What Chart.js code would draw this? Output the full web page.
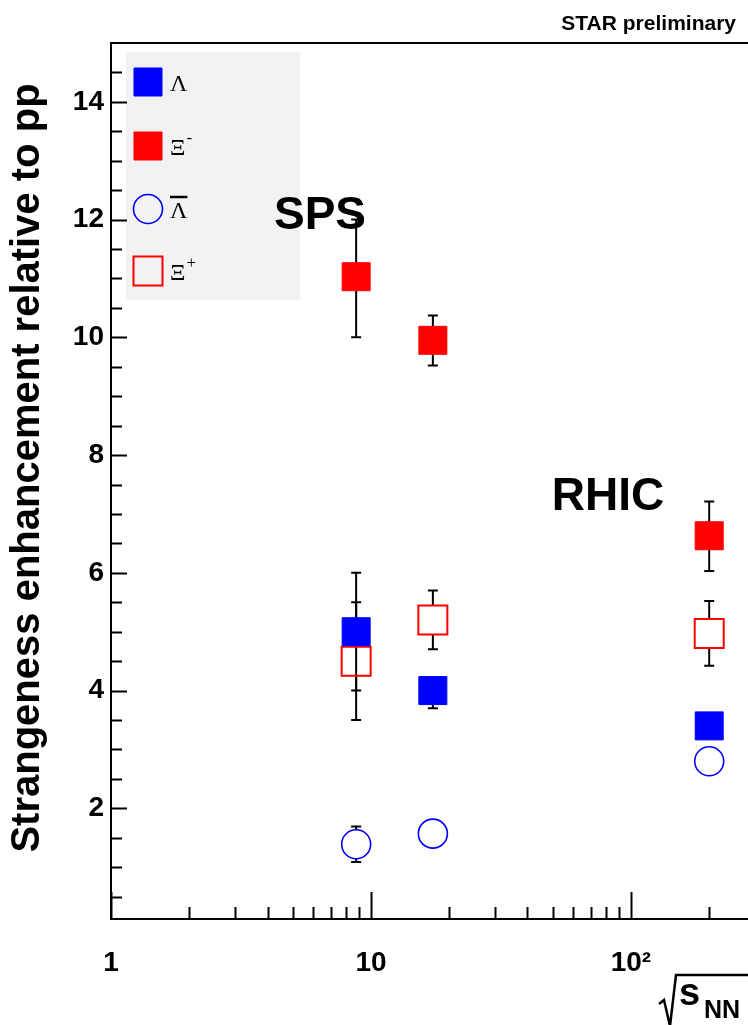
<!DOCTYPE html>
<html lang="en">
  <head>
    <meta charset="UTF-8" />
    <title>Strangeness enhancement</title>
    <script src="https://cdn.jsdelivr.net/npm/chart.js"></script>
    <style>
      body { margin: 0; background: #fff; }
      canvas { display: block; }
    </style>
  </head>
  <body>
    <canvas id="chart" width="748" height="1025"></canvas>

    <script>
      /* data */
      const energies = [8.77, 17.3, 200];

      const lambda = [5.0, 4.0, 3.4];
      const lambdaErrLo = [1.0, 0.3, 0];
      const lambdaErrHi = [1.0, 0.2, 0];

      const xiMinus = [11.03, 9.95, 6.63];
      const xiMinusErrLo = [1.03, 0.43, 0.6];
      const xiMinusErrHi = [0.97, 0.42, 0.58];

      const antiLambda = [1.39, 1.57, 2.8];
      const antiLambdaErrLo = [0.3, 0, 0];
      const antiLambdaErrHi = [0.3, 0, 0];

      const xiPlus = [4.5, 5.2, 4.97];
      const xiPlusErrLo = [1.0, 0.5, 0.55];
      const xiPlusErrHi = [1.0, 0.5, 0.55];

      const xTicks = [1, 10, 100];
      const xTickLabels = ["1", "10", "10²"];
      const xMinor = [2, 3, 4, 5, 6, 7, 8, 9, 20, 30, 40, 50, 60, 70, 80, 90, 200];
      const yTicks = [2, 4, 6, 8, 10, 12, 14];
      const yTickLabels = ["2", "4", "6", "8", "10", "12", "14"];

      const SANS = "'Liberation Sans', Arial, sans-serif";
      const SERIF = "'Liberation Serif', 'Times New Roman', serif";
      const BLUE = "#0000ff";
      const RED = "#ff0000";

      const pts = vals => energies.map((e, i) => ({ x: e, y: vals[i] }));

      /* legend, texts, error bars, frame, ticks */
      const decor = {
        id: "decor",
        beforeDatasetsDraw(chart) {
          const { ctx, scales: { x, y } } = chart;
          ctx.save();

          // legend
          ctx.fillStyle = "#f2f2f2";
          ctx.fillRect(126, 52, 174, 248);
          const rowsY = [82, 146, 209, 271];
          chart.data.datasets.forEach((ds, k) => {
            const cy = rowsY[k], cx = 148;
            ctx.lineWidth = ds.borderWidth;
            ctx.strokeStyle = ds.borderColor;
            ctx.fillStyle = ds.backgroundColor;
            ctx.beginPath();
            if (ds.pointStyle === "circle") {
              ctx.arc(cx, cy, ds.pointRadius, 0, Math.PI * 2);
            } else {
              const h = ds.pointRadius * Math.SQRT1_2;
              ctx.rect(cx - h, cy - h, 2 * h, 2 * h);
            }
            ctx.fill();
            ctx.stroke();

            ctx.fillStyle = "#000";
            ctx.textAlign = "left";
            ctx.textBaseline = "alphabetic";
            ctx.font = "24px " + SERIF;
            ctx.fillText(ds.label, 170, cy + 9);
            const w = ctx.measureText(ds.label).width;
            if (ds.sup) {
              ctx.font = "17px " + SERIF;
              ctx.fillText(ds.sup, 170 + w + 1, cy - 3);
            }
            if (ds.bar) {
              ctx.strokeStyle = "#000";
              ctx.lineWidth = 2.5;
              ctx.beginPath();
              ctx.moveTo(170, cy - 12); ctx.lineTo(170 + w, cy - 12);
              ctx.stroke();
            }
          });

          // big labels
          ctx.fillStyle = "#000";
          ctx.font = "bold 46px " + SANS;
          ctx.textAlign = "center";
          ctx.textBaseline = "middle";
          ctx.fillText("SPS", 320, 216);
          ctx.fillText("RHIC", 608, 497);

          // error bars
          ctx.strokeStyle = "#000";
          ctx.lineWidth = 2;
          chart.data.datasets.forEach(ds => {
            ds.data.forEach((p, i) => {
              const px = x.getPixelForValue(p.x);
              const py = y.getPixelForValue(p.y);
              const top = y.getPixelForValue(p.y + ds.errHi[i]);
              const bot = y.getPixelForValue(p.y - ds.errLo[i]);
              const gap = ds.gap;
              ctx.beginPath();
              if (py - top > gap) {
                ctx.moveTo(px, top); ctx.lineTo(px, py - gap);
                ctx.moveTo(px - 5, top); ctx.lineTo(px + 5, top);
              }
              if (bot - py > gap) {
                ctx.moveTo(px, py + gap); ctx.lineTo(px, bot);
                ctx.moveTo(px - 5, bot); ctx.lineTo(px + 5, bot);
              }
              ctx.stroke();
            });
          });
          ctx.restore();
        },
        afterDraw(chart) {
          const { ctx, chartArea: a, scales: { x, y } } = chart;
          ctx.save();
          ctx.strokeStyle = "#000";
          ctx.lineWidth = 2;

          // frame
          ctx.beginPath();
          ctx.moveTo(a.right + 2, a.top);
          ctx.lineTo(a.left, a.top);
          ctx.lineTo(a.left, a.bottom);
          ctx.lineTo(a.right + 2, a.bottom);
          ctx.stroke();

          // ticks inside
          ctx.beginPath();
          for (let v = 0.5; v < 15; v += 0.5) {
            const py = Math.round(y.getPixelForValue(v)) + 0.5;
            if (py > a.bottom || py < a.top) continue;
            const len = v % 2 === 0 ? 16 : 11;
            ctx.moveTo(a.left, py); ctx.lineTo(a.left + len, py);
          }
          xTicks.concat(xMinor).forEach(v => {
            const px = Math.round(x.getPixelForValue(v)) + 0.5;
            const len = xTicks.includes(v) ? 27 : 12;
            ctx.moveTo(px, a.bottom); ctx.lineTo(px, a.bottom - len);
          });
          ctx.stroke();

          // y title
          ctx.fillStyle = "#000";
          ctx.save();
          ctx.translate(28, 468);
          ctx.rotate(-Math.PI / 2);
          ctx.font = "bold 40px " + SANS;
          ctx.textAlign = "center";
          ctx.textBaseline = "middle";
          ctx.fillText("Strangeness enhancement relative to pp", 0, 0);
          ctx.restore();

          // x title  √s_NN
          ctx.lineWidth = 2.5;
          ctx.beginPath();
          ctx.moveTo(659, 1004); ctx.lineTo(664, 1000); ctx.lineTo(670, 1026);
          ctx.lineTo(676, 975); ctx.lineTo(748, 975);
          ctx.stroke();
          ctx.textAlign = "left";
          ctx.textBaseline = "alphabetic";
          ctx.font = "bold 38px " + SANS;
          ctx.fillText("s", 679, 1005);
          ctx.font = "bold 25px " + SANS;
          ctx.fillText("NN", 704, 1018);

          // STAR preliminary
          ctx.font = "bold 21px " + SANS;
          ctx.textAlign = "right";
          ctx.fillText("STAR preliminary", 736, 30);
          ctx.restore();
        }
      };

      new Chart(document.getElementById("chart"), {
        type: "scatter",
        data: {
          datasets: [
            {
              label: "Λ", data: pts(lambda), errLo: lambdaErrLo, errHi: lambdaErrHi,
              pointStyle: "rect", pointRadius: 19.8, gap: 14,
              backgroundColor: BLUE, borderColor: BLUE, borderWidth: 1
            },
            {
              label: "Ξ", sup: "-", data: pts(xiMinus), errLo: xiMinusErrLo, errHi: xiMinusErrHi,
              pointStyle: "rect", pointRadius: 19.8, gap: 14,
              backgroundColor: RED, borderColor: RED, borderWidth: 1
            },
            {
              label: "Λ", bar: true, data: pts(antiLambda), errLo: antiLambdaErrLo, errHi: antiLambdaErrHi,
              pointStyle: "circle", pointRadius: 14.5, gap: 14.5,
              backgroundColor: "rgba(255,255,255,0)", borderColor: BLUE, borderWidth: 1.6
            },
            {
              label: "Ξ", sup: "+", data: pts(xiPlus), errLo: xiPlusErrLo, errHi: xiPlusErrHi,
              pointStyle: "rect", pointRadius: 20.5, gap: 14.5,
              backgroundColor: "rgba(255,255,255,0)", borderColor: RED, borderWidth: 2
            }
          ]
        },
        options: {
          responsive: false,
          animation: false,
          events: [],
          layout: { autoPadding: false, padding: { top: 43, right: 0, left: 0, bottom: 0 } },
          plugins: { legend: { display: false }, tooltip: { enabled: false } },
          scales: {
            x: {
              type: "logarithmic",
              min: 1,
              max: 282,
              afterFit: s => { s.height = 106; s.paddingLeft = 0; s.paddingRight = 0; },
              afterBuildTicks: s => { s.ticks = xTicks.map(v => ({ value: v })); },
              ticks: {
                callback: (v, i) => xTickLabels[i],
                font: { family: SANS, size: 28, weight: "bold" },
                color: "#000",
                padding: 27,
                maxRotation: 0,
                autoSkip: false
              },
              grid: { display: false, drawTicks: false },
              border: { display: false }
            },
            y: {
              min: 0.12,
              max: 15,
              afterFit: s => { s.width = 111; s.paddingTop = 0; s.paddingBottom = 0; },
              afterBuildTicks: s => { s.ticks = yTicks.map(v => ({ value: v })); },
              ticks: {
                callback: (v, i) => yTickLabels[i],
                font: { family: SANS, size: 28, weight: "bold" },
                color: "#000",
                padding: 7
              },
              grid: { display: false, drawTicks: false },
              border: { display: false }
            }
          }
        },
        plugins: [decor]
      });
    </script>
  </body>
</html>
